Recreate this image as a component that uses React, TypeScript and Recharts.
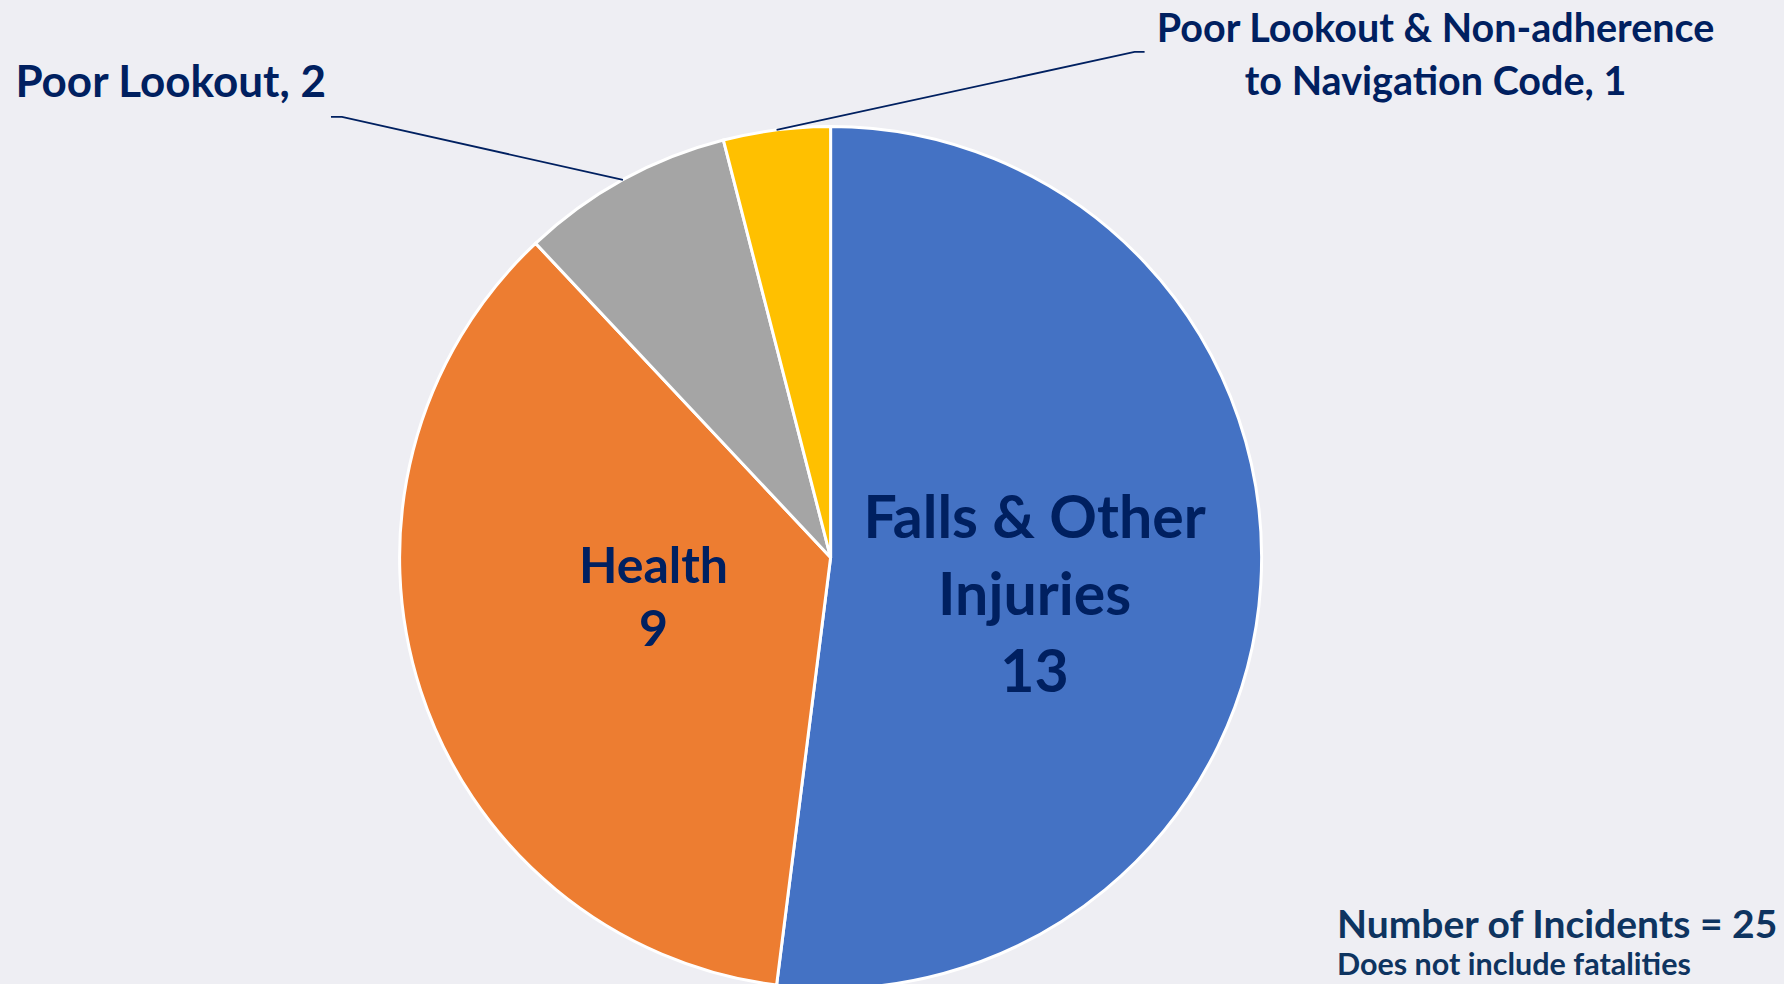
import { PieChart, Pie, Cell } from 'recharts';

const categories = ['Falls & Other Injuries', 'Health', 'Poor Lookout', 'Poor Lookout & Non-adherence to Navigation Code'];
const values = [13, 9, 2, 1];
const labelLines = [
  ['Falls & Other', 'Injuries'],
  ['Health'],
  ['Poor Lookout'],
  ['Poor Lookout & Non-adherence', 'to Navigation Code'],
];
const sliceColors = ['#4472C4', '#ED7D31', '#A5A5A5', '#FFC000'];
const totalNote = 'Number of Incidents = 25';
const subNote = 'Does not include fatalities';

const W = 1784;
const H = 984;
const FONT = 'Lato, "Open Sans", sans-serif';
const NAVY = '#002060';
const RAD = Math.PI / 180;

const chartData = categories.map((name, i) => ({ name, value: values[i] }));

const renderLabel = (props: any) => {
  const { cx, cy, midAngle, outerRadius, index, value } = props;
  const lines: string[] = labelLines[index];

  // labels inside the two big slices
  if (index < 2) {
    const a = (midAngle - 6) * RAD;
    const rr = outerRadius * (index === 0 ? 0.48 : 0.42);
    const x = cx + rr * Math.cos(a);
    const y = cy - rr * Math.sin(a);
    const size = index === 0 ? 59 : 50;
    const gap = index === 0 ? 77 : 63;
    const all = [...lines, String(value)];
    const top = y - ((all.length - 1) * gap) / 2;
    return (
      <text textAnchor="middle" fill={NAVY} fontFamily={FONT} fontWeight={700} fontSize={size}>
        {all.map((t, i) => (
          <tspan key={i} x={x} y={top + i * gap} dominantBaseline="central">{t}</tspan>
        ))}
      </text>
    );
  }

  // outside labels with leader lines
  const a = midAngle * RAD;
  const sx = cx + outerRadius * Math.cos(a);
  const sy = cy - outerRadius * Math.sin(a);
  const left = index === 2;
  const ex = sx + (left ? -281 : 358);
  const ey = sy + (left ? -63 : -78);
  const hx = ex + (left ? -11 : 10);
  const text = [...lines];
  text[text.length - 1] = `${text[text.length - 1]}, ${value}`;

  return (
    <g>
      <polyline points={`${sx},${sy} ${ex},${ey} ${hx},${ey}`} fill="none" stroke={NAVY} strokeWidth={1.75} />
      {left ? (
        <text x={hx - 5} y={ey - 37} textAnchor="end" dominantBaseline="central" fill={NAVY}
          fontFamily={FONT} fontWeight={700} fontSize={44}>
          {text[0]}
        </text>
      ) : (
        <text textAnchor="middle" fill={NAVY} fontFamily={FONT} fontWeight={700} fontSize={39.5}>
          {text.map((t, i) => (
            <tspan key={i} x={hx + 291} y={ey - 25 + i * 53} dominantBaseline="central">{t}</tspan>
          ))}
        </text>
      )}
    </g>
  );
};

export default function App() {
  return (
    <div style={{ position: 'fixed', left: 0, top: 0, width: W, height: H, background: '#EEEEF3', overflow: 'hidden' }}>
      <PieChart width={W} height={H} margin={{ top: 0, right: 0, bottom: 0, left: 0 }}>
        <Pie
          data={chartData}
          dataKey="value"
          nameKey="name"
          cx={830.6}
          cy={557.5}
          outerRadius={431}
          startAngle={90}
          endAngle={-270}
          stroke="#FFFFFF"
          strokeWidth={3}
          label={renderLabel}
          labelLine={false}
          isAnimationActive={false}
        >
          {chartData.map((d, i) => (
            <Cell key={d.name} fill={sliceColors[i]} />
          ))}
        </Pie>
      </PieChart>
      <div style={{ position: 'absolute', left: 1337, top: 900, fontFamily: FONT, fontWeight: 700, color: '#0E3460', whiteSpace: 'nowrap' }}>
        <div style={{ fontSize: 39, lineHeight: '46px' }}>{totalNote}</div>
        <div style={{ fontSize: 30.5, lineHeight: '34px' }}>{subNote}</div>
      </div>
    </div>
  );
}
